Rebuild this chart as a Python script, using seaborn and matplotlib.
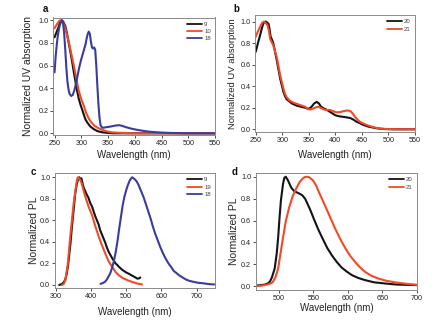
import numpy as np
import pandas as pd
import matplotlib
matplotlib.use("Agg")
import matplotlib.pyplot as plt
import seaborn as sns

# ---------- data ----------
# panel a: UV absorption of 9, 10, 18
a_9_x = [250, 254, 257.5, 260, 263, 266, 270, 273, 276, 280, 283, 286, 289, 292, 295, 298, 301.6,
         305, 308, 312, 317, 323, 330, 336, 342, 350, 360, 400, 550]
a_9_y = [0.85, 0.90, 0.94, 0.98, 1.0, 0.99, 0.95, 0.89, 0.81, 0.71, 0.63, 0.54, 0.46, 0.38, 0.31,
         0.26, 0.21, 0.16, 0.12, 0.09, 0.06, 0.038, 0.02, 0.012, 0.007, 0.003, 0.0, 0.0, 0.0]
a_10_x = [250, 255, 258, 260.7, 264, 267, 271, 276, 281, 286, 290, 295, 300, 305, 309, 314, 319,
          324, 330, 337, 343, 349, 358, 368, 400, 550]
a_10_y = [0.93, 0.97, 0.99, 1.0, 0.99, 0.97, 0.91, 0.82, 0.71, 0.60, 0.50, 0.38, 0.30, 0.24, 0.18,
          0.13, 0.095, 0.07, 0.05, 0.035, 0.024, 0.015, 0.008, 0.005, 0.0, 0.0]
a_18_x = [250, 252, 254, 256, 258, 260, 262, 264, 266, 268, 270, 272, 274, 276, 278, 281, 284, 287,
          290, 293, 296, 299, 302, 305, 308, 310, 312, 314, 316, 318, 320, 322, 324, 326, 328, 330,
          332, 334, 336, 339, 342, 348, 355, 363, 371, 377, 383, 393, 405, 418, 430, 445, 462, 480,
          500, 550]
a_18_y = [0.54, 0.68, 0.78, 0.86, 0.92, 0.96, 0.99, 1.0, 0.97, 0.88, 0.74, 0.58, 0.46, 0.39, 0.35,
          0.33, 0.34, 0.38, 0.44, 0.51, 0.58, 0.64, 0.69, 0.74, 0.79, 0.84, 0.88, 0.90, 0.88, 0.81,
          0.76, 0.75, 0.76, 0.74, 0.60, 0.42, 0.26, 0.14, 0.07, 0.05, 0.05, 0.055, 0.06, 0.068, 0.072,
          0.065, 0.055, 0.042, 0.03, 0.02, 0.013, 0.008, 0.004, 0.002, 0.0, 0.0]

# panel b: UV absorption of 20, 21
b_20_x = [250, 254, 258, 261, 264, 267, 269, 272, 274, 276, 278, 280, 283, 286, 290, 293, 296, 299,
          302, 305, 308, 313, 318, 327, 335, 343, 349, 353, 356, 360, 365, 369, 373, 378, 384, 392,
          400, 408, 416, 422, 428, 434, 440, 447, 453, 462, 472, 480, 490, 510, 550]
b_20_y = [0.72, 0.80, 0.87, 0.93, 0.98, 1.0, 1.0, 0.99, 0.98, 0.93, 0.86, 0.84, 0.80, 0.73, 0.63,
          0.55, 0.47, 0.41, 0.35, 0.31, 0.28, 0.26, 0.24, 0.22, 0.21, 0.20, 0.19, 0.20, 0.215, 0.24,
          0.255, 0.24, 0.21, 0.195, 0.18, 0.155, 0.13, 0.12, 0.115, 0.11, 0.105, 0.09, 0.07, 0.055,
          0.04, 0.025, 0.015, 0.008, 0.003, 0.0, 0.0]
b_21_x = [250, 254, 258, 262, 265, 268, 272, 275, 277, 280, 283, 286, 290, 293, 296, 299, 302, 305,
          308, 313, 318, 325, 331, 337, 343, 349, 354, 359, 364, 368, 374, 381, 386, 390, 395, 400,
          405, 409, 415, 422, 428, 433, 437, 442, 446, 452, 459, 468, 478, 487, 497, 520, 550]
b_21_y = [0.86, 0.91, 0.95, 0.99, 1.0, 0.99, 0.97, 0.91, 0.84, 0.81, 0.78, 0.73, 0.66, 0.58, 0.50,
          0.44, 0.38, 0.33, 0.30, 0.27, 0.255, 0.24, 0.23, 0.22, 0.21, 0.185, 0.185, 0.195, 0.205,
          0.21, 0.195, 0.18, 0.18, 0.18, 0.17, 0.16, 0.158, 0.16, 0.168, 0.175, 0.17, 0.145, 0.115,
          0.09, 0.07, 0.055, 0.04, 0.025, 0.012, 0.006, 0.003, 0.0, 0.0]

# panel c: PL of 9, 19, 18
c_9_x = [310, 318, 323, 327, 331, 335, 338, 342, 346, 351, 355, 360, 364, 367, 370, 373, 377, 380,
         384, 388, 393, 398, 403, 408, 412, 417, 422, 426, 431, 436, 441, 445, 450, 455, 460, 465,
         470, 475, 479, 484, 489, 494, 498, 504, 510, 515, 521, 526, 531, 536, 540]
c_9_y = [0.0, 0.01, 0.025, 0.05, 0.10, 0.18, 0.27, 0.39, 0.54, 0.70, 0.84, 0.94, 0.99, 1.0, 0.98,
         0.99, 0.93, 0.90, 0.87, 0.84, 0.81, 0.76, 0.73, 0.68, 0.64, 0.60, 0.56, 0.51, 0.47, 0.43,
         0.39, 0.35, 0.31, 0.28, 0.25, 0.225, 0.20, 0.185, 0.17, 0.155, 0.14, 0.13, 0.12, 0.11,
         0.10, 0.09, 0.08, 0.07, 0.06, 0.06, 0.07]
c_19_x = [318, 323, 327, 330, 334, 337, 341, 346, 351, 356, 360, 363, 366, 369, 373, 378, 384, 393,
          403, 412, 422, 431, 441, 450, 460, 470, 479, 490, 507, 520, 530, 545]
c_19_y = [0.0, 0.01, 0.04, 0.10, 0.19, 0.29, 0.44, 0.60, 0.76, 0.88, 0.97, 1.0, 0.99, 0.98, 0.95,
          0.89, 0.82, 0.73, 0.65, 0.55, 0.45, 0.37, 0.29, 0.22, 0.17, 0.12, 0.09, 0.065, 0.04,
          0.025, 0.015, 0.005]
c_18_x = [427, 435, 440, 445, 450, 455, 460, 465, 470, 475, 480, 485, 490, 495, 500, 505, 510, 514,
          517, 521, 525, 530, 535, 540, 545, 550, 555, 560, 565, 570, 575, 582, 590, 597, 605, 612,
          620, 628, 635, 643, 650, 660, 670, 680, 690, 705, 720, 735, 750]
c_18_y = [0.01, 0.02, 0.03, 0.05, 0.08, 0.11, 0.16, 0.22, 0.30, 0.40, 0.52, 0.63, 0.74, 0.82, 0.88,
          0.93, 0.97, 0.99, 1.0, 0.99, 0.98, 0.96, 0.93, 0.89, 0.85, 0.81, 0.76, 0.71, 0.66, 0.61,
          0.55, 0.48, 0.41, 0.35, 0.29, 0.245, 0.20, 0.165, 0.13, 0.11, 0.09, 0.07, 0.05, 0.038,
          0.03, 0.02, 0.015, 0.008, 0.005]

# panel d: PL of 20, 21
d_20_x = [467, 475, 480, 484, 487, 490, 494, 497, 499, 501, 503, 506, 508, 510, 513, 518, 522, 525,
          530, 534, 538, 541, 546, 551, 557, 563, 570, 577, 584, 591, 598, 606, 615, 625, 638, 653,
          670, 685, 700]
d_20_y = [0.005, 0.01, 0.015, 0.025, 0.04, 0.08, 0.16, 0.30, 0.44, 0.62, 0.78, 0.93, 0.99, 1.0,
          0.97, 0.90, 0.87, 0.86, 0.845, 0.83, 0.80, 0.76, 0.69, 0.61, 0.52, 0.44, 0.35, 0.28, 0.22,
          0.17, 0.135, 0.10, 0.075, 0.055, 0.035, 0.025, 0.015, 0.012, 0.01]
d_21_x = [467, 475, 480, 486, 491, 495, 499, 502, 506, 510, 515, 520, 525, 530, 534, 537, 540, 544,
          549, 554, 558, 563, 568, 575, 582, 589, 596, 603, 610, 617, 625, 634, 644, 655, 668, 684,
          700]
d_21_y = [0.0, 0.005, 0.01, 0.02, 0.035, 0.08, 0.16, 0.28, 0.44, 0.59, 0.72, 0.82, 0.89, 0.95, 0.98,
          0.995, 1.0, 0.995, 0.97, 0.92, 0.86, 0.79, 0.72, 0.62, 0.52, 0.43, 0.35, 0.28, 0.225,
          0.175, 0.13, 0.095, 0.07, 0.05, 0.035, 0.022, 0.012]

# ---------- style ----------
sns.set_style("ticks")
plt.rcParams['font.family'] = ['Liberation Sans', 'DejaVu Sans']
C_BLACK = "#141414"
C_RED = "#f04a28"
C_BLUE = "#3a3c9c"
LW = 1.5

W, H = 439, 321
fig = plt.figure(figsize=(W / 100, H / 100), dpi=100)


def box(l, t, r, b):
    return [l / W, 1 - b / H, (r - l) / W, (b - t) / H]


def make_df(series):
    frames = []
    for name, xs, ys in series:
        frames.append(pd.DataFrame({"Wavelength": xs, "value": ys, "sample": name}))
    return pd.concat(frames, ignore_index=True)


def draw(rect, series, colors, xlim, ylim, xticks, ylabel, letter, letter_pos,
         ylabel_x, xlabel_y, ylabel_size=7.4):
    ax = fig.add_axes(box(*rect))
    df = make_df(series)
    names = [s[0] for s in series]
    sns.lineplot(data=df, x="Wavelength", y="value", hue="sample",
                 hue_order=names, palette=dict(zip(names, colors)),
                 linewidth=LW, ax=ax, sort=True, estimator=None)
    ax.set_xlim(*xlim)
    ax.set_ylim(*ylim)
    ax.set_xticks(xticks)
    ax.set_yticks([0.0, 0.2, 0.4, 0.6, 0.8, 1.0])
    ax.set_yticklabels([f"{v:.1f}" for v in [0.0, 0.2, 0.4, 0.6, 0.8, 1.0]])
    ax.tick_params(axis="both", labelsize=5.2, length=2, width=0.6, pad=1.5,
                   colors="#333333", labelcolor="#222222")
    for sp in ax.spines.values():
        sp.set_color("#8a8a8a")
        sp.set_linewidth(0.7)
    ax.set_xlabel("Wavelength (nm)", fontsize=7, color="#222222")
    ax.set_ylabel(ylabel, fontsize=ylabel_size, color="#222222")
    ax.xaxis.set_label_coords((rect[0] + rect[2]) / 2 / W, 1 - xlabel_y / H,
                              transform=fig.transFigure)
    ax.yaxis.set_label_coords(ylabel_x / W, 1 - (rect[1] + rect[3]) / 2 / H,
                              transform=fig.transFigure)
    ax.xaxis.label.set_va("center")
    ax.yaxis.label.set_va("center")
    leg = ax.legend(loc="upper right", fontsize=4.3, frameon=False,
                    handlelength=2.6, handletextpad=0.3, labelspacing=0.35,
                    borderaxespad=0.3)
    for line in leg.get_lines():
        line.set_linewidth(1.3)
    for t in leg.get_texts():
        t.set_color("#444444")
    fig.text(letter_pos[0] / W, 1 - letter_pos[1] / H, letter, fontsize=7,
             fontweight="bold", ha="center", va="center", color="#111111")
    return ax


draw((53.5, 17.5, 215, 135),
     [("9", a_9_x, a_9_y), ("10", a_10_x, a_10_y), ("18", a_18_x, a_18_y)],
     [C_BLACK, C_RED, C_BLUE], (248, 550), (-0.015, 1.025),
     [250, 300, 350, 400, 450, 500, 550], "Normalized UV absorption", "a",
     (45, 9), 28, 155)

draw((255.5, 15, 415, 132),
     [("20", b_20_x, b_20_y), ("21", b_21_x, b_21_y)],
     [C_BLACK, C_RED], (249.5, 550), (-0.025, 1.062),
     [250, 300, 350, 400, 450, 500, 550], "Normalized UV absorption", "b",
     (236, 9), 233, 155, ylabel_size=6.8)

draw((55, 173, 215, 288),
     [("9", c_9_x, c_9_y), ("19", c_19_x, c_19_y), ("18", c_18_x, c_18_y)],
     [C_BLACK, C_RED, C_BLUE], (298, 752), (-0.028, 1.04),
     [300, 400, 500, 600, 700], "Normalized PL", "c",
     (33, 172), 34, 312)

draw((256, 173, 417, 290),
     [("20", d_20_x, d_20_y), ("21", d_21_x, d_21_y)],
     [C_BLACK, C_RED], (467, 700), (-0.035, 1.034),
     [500, 550, 600, 650, 700], "Normalized PL", "d",
     (235, 172), 234, 308)

fig.savefig("out.png", dpi=100)
